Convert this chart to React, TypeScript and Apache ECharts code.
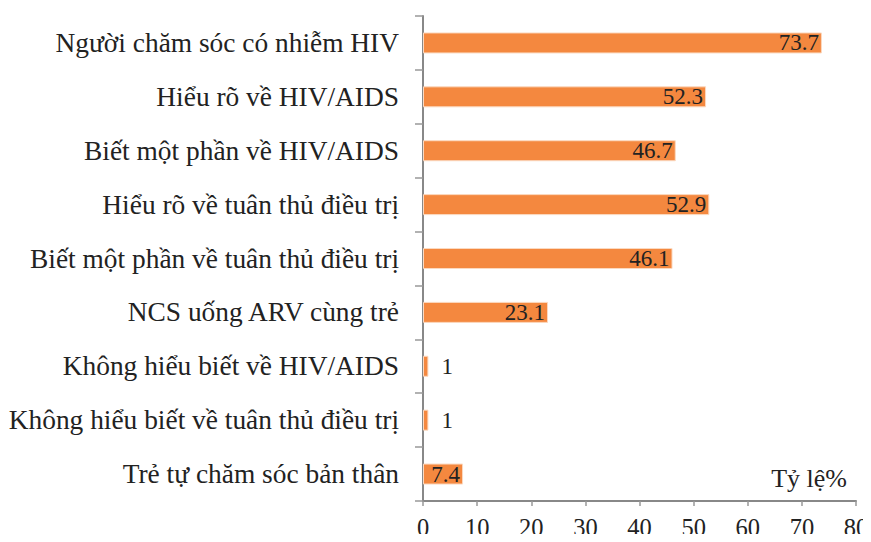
import React, { useEffect, useRef } from "react";
import * as echarts from "echarts";

const categories = [
  "Người chăm sóc có nhiễm HIV",
  "Hiểu rõ về HIV/AIDS",
  "Biết một phần về HIV/AIDS",
  "Hiểu rõ về tuân thủ điều trị",
  "Biết một phần về tuân thủ điều trị",
  "NCS uống ARV cùng trẻ",
  "Không hiểu biết về HIV/AIDS",
  "Không hiểu biết về tuân thủ điều trị",
  "Trẻ tự chăm sóc bản thân",
];
const values = [73.7, 52.3, 46.7, 52.9, 46.1, 23.1, 1, 1, 7.4];
const xTicks = [0, 10, 20, 30, 40, 50, 60, 70, 80];
const axisTitle = "Tỷ lệ%";

const FONT = "'Liberation Serif', 'DejaVu Serif', serif";

export default function App() {
  const ref = useRef<HTMLDivElement>(null);
  useEffect(() => {
    const chart = echarts.init(ref.current!, undefined, { renderer: "svg" });
    chart.setOption({
      animation: false,
      grid: {
        left: 423,
        right: 15,
        top: 16,
        bottom: 41,
        containLabel: false,
        outerBoundsMode: "none",
      },
      xAxis: {
        type: "value",
        min: xTicks[0],
        max: xTicks[xTicks.length - 1],
        interval: 10,
        splitLine: { show: false },
        axisLine: { show: true, lineStyle: { color: "#888", width: 2 } },
        axisTick: { show: true, length: 5, lineStyle: { color: "#999", width: 1.5 } },
        axisLabel: {
          color: "#222",
          fontFamily: FONT,
          fontSize: 24.5,
          margin: 14,
          lineHeight: 25,
        },
      },
      yAxis: {
        type: "category",
        data: categories,
        inverse: true,
        axisLine: { show: true, lineStyle: { color: "#888", width: 2 } },
        axisTick: { show: true, length: 8, lineStyle: { color: "#999", width: 1.5 } },
        axisLabel: { color: "#222", fontFamily: FONT, fontSize: 27.4, margin: 24 },
      },
      graphic: [
        {
          type: "text",
          right: 24,
          top: 465,
          style: { text: axisTitle, fill: "#222", font: `26px ${FONT}` },
        },
      ],
      series: [
        {
          type: "bar",
          data: values.map((v) => ({
            value: v,
            label:
              v < 5
                ? { position: "right", distance: 13 }
                : { position: "insideRight", distance: 3 },
          })),
          barWidth: 21,
          itemStyle: { color: "#F4883F", borderColor: "#FBD9C0", borderWidth: 1 },
          label: {
            show: true,
            color: "#222",
            fontFamily: FONT,
            fontSize: 23,
          },
        },
      ],
    });
    return () => chart.dispose();
  }, []);
  return <div ref={ref} style={{ width: 871, height: 542, margin: -8 }} />;
}
